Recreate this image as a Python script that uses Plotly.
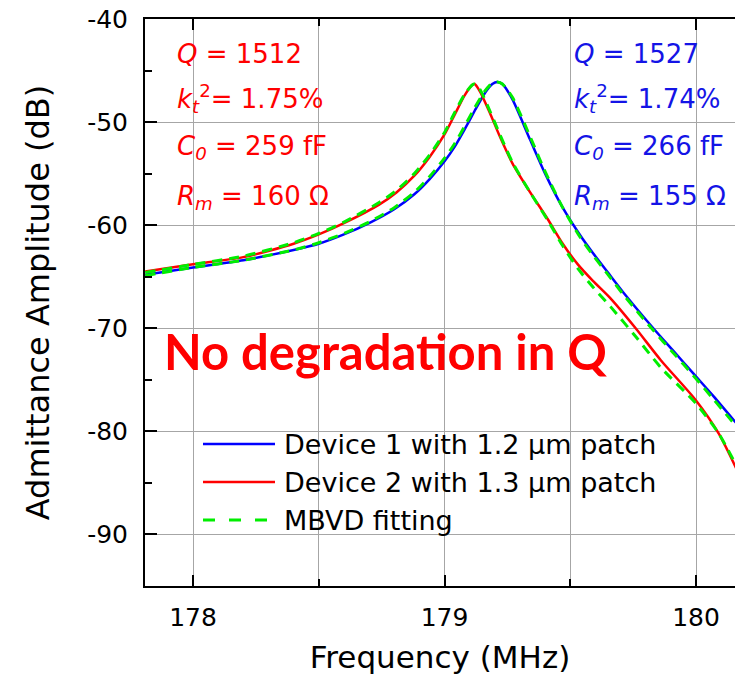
import plotly.graph_objects as go

# ---------------- data ----------------
freq_blue = [177.81, 178.00, 178.20, 178.40, 178.50, 178.60, 178.70, 178.80, 178.88, 178.94,
             179.00, 179.04, 179.08, 179.12, 179.16, 179.19, 179.21, 179.23, 179.27, 179.34,
             179.40, 179.47, 179.54, 179.59, 179.65, 179.72, 179.83, 179.91, 179.99, 180.07, 180.16]
dev1_blue = [-64.8, -64.1, -63.4, -62.4, -61.8, -60.9, -59.8, -58.45, -57.0, -55.55,
             -53.8, -52.4, -50.7, -48.9, -47.2, -46.3, -46.1, -46.3, -47.8, -51.7,
             -55.0, -58.3, -61.0, -62.7, -64.6, -66.8, -70.0, -72.2, -74.4, -76.6, -79.2]
fit_blue = [-64.9, -64.1, -63.4, -62.4, -61.7, -60.8, -59.7, -58.3, -56.8, -55.3,
            -53.5, -52.1, -50.4, -48.6, -47.0, -46.2, -46.1, -46.3, -47.6, -51.4,
            -54.8, -58.3, -61.2, -62.9, -64.8, -67.0, -70.2, -72.4, -74.6, -76.9, -79.5]

freq_red = [177.81, 178.00, 178.20, 178.40, 178.50, 178.60, 178.74, 178.81, 178.88, 178.94,
            179.00, 179.04, 179.08, 179.11, 179.12, 179.14, 179.18, 179.22, 179.27, 179.34,
            179.41, 179.47, 179.53, 179.59, 179.66, 179.76, 179.86, 180.00, 180.09, 180.16]
dev2_red = [-64.5, -63.8, -63.1, -61.8, -60.9, -59.8, -58.0, -56.8, -55.2, -53.4,
            -51.2, -49.3, -47.4, -46.4, -46.3, -47.0, -49.1, -51.4, -54.0, -56.8,
            -59.4, -61.8, -63.8, -65.4, -67.1, -70.0, -73.1, -77.0, -80.2, -83.6]
fit_red = [-64.6, -63.8, -63.0, -61.7, -60.8, -59.7, -57.8, -56.6, -55.0, -53.2,
           -51.0, -49.1, -47.3, -46.4, -46.3, -46.8, -48.9, -51.2, -53.9, -56.8,
           -59.5, -62.0, -64.2, -66.0, -67.9, -70.8, -73.8, -77.3, -80.2, -83.3]

legend_labels = ["Device 1 with 1.2 \u03bcm patch", "Device 2 with 1.3 \u03bcm patch", "MBVD fitting"]
red_params = ["<i>Q</i> = 1512", "<i>k</i><sub><i>t</i></sub><sup>2</sup>= 1.75%",
              "<i>C</i><sub><i>0</i></sub> = 259 fF", "<i>R</i><sub><i>m</i></sub> = 160 \u03a9"]
blue_params = ["<i>Q</i> = 1527", "<i>k</i><sub><i>t</i></sub><sup>2</sup>= 1.74%",
               "<i>C</i><sub><i>0</i></sub> = 266 fF", "<i>R</i><sub><i>m</i></sub> = 155 \u03a9"]
x_ticks = [178, 179, 180]
y_ticks = [-90, -80, -70, -60, -50, -40]

# ---------------- styling ----------------
RED = "#ff0000"
BLUE = "#0000ff"
BLUE_TXT = "#1414e6"
GREEN = "#00ee00"
FONT = "DejaVu Sans"
W, H = 735, 685
ML, MR, MT, MB = 145, 0, 19, 99
PW, PH = W - ML - MR, H - MT - MB


def px(x):
    return (x - ML) / PW


def py(y):
    return (H - MB - y) / PH


fig = go.Figure()
fig.add_trace(go.Scatter(x=freq_blue, y=dev1_blue, mode="lines", name=legend_labels[0],
                         line=dict(color=BLUE, width=2.5, shape="spline", smoothing=0.7)))
fig.add_trace(go.Scatter(x=freq_red, y=dev2_red, mode="lines", name=legend_labels[1],
                         line=dict(color=RED, width=2.5, shape="spline", smoothing=0.7)))
fig.add_trace(go.Scatter(x=freq_blue, y=fit_blue, mode="lines", name=legend_labels[2],
                         line=dict(color=GREEN, width=3, dash="10px,7px", shape="spline", smoothing=0.7)))
fig.add_trace(go.Scatter(x=freq_red, y=fit_red, mode="lines", name=legend_labels[2],
                         line=dict(color=GREEN, width=3, dash="10px,7px", shape="spline", smoothing=0.7)))

annotations = []
shapes = []
# parameter text blocks
rows_y = [54, 98, 147, 197]
for i, (rt, bt) in enumerate(zip(red_params, blue_params)):
    annotations.append(dict(x=px(175), y=py(rows_y[i]), xref="paper", yref="paper", text=rt,
                            showarrow=False, xanchor="left", yanchor="middle",
                            font=dict(family=FONT, size=26, color=RED)))
    annotations.append(dict(x=px(572), y=py(rows_y[i]), xref="paper", yref="paper", text=bt,
                            showarrow=False, xanchor="left", yanchor="middle",
                            font=dict(family=FONT, size=26, color=BLUE_TXT)))

annotations.append(dict(x=px(385), y=py(351), xref="paper", yref="paper",
                        text="<b>No degradation in Q</b>", showarrow=False,
                        xanchor="center", yanchor="middle",
                        font=dict(family="Lato", size=49, color=RED)))

# manual legend
leg_y = [444, 482, 520]
leg_style = [dict(color=BLUE, width=2.5), dict(color=RED, width=2.5),
             dict(color=GREEN, width=3, dash="12px,14px")]
for i in range(3):
    shapes.append(dict(type="line", xref="paper", yref="paper",
                       x0=px(203), x1=px(275), y0=py(leg_y[i]), y1=py(leg_y[i]),
                       line=leg_style[i]))
    annotations.append(dict(x=px(282), y=py(leg_y[i]), xref="paper", yref="paper",
                            text=legend_labels[i], showarrow=False, xanchor="left",
                            yanchor="middle", font=dict(family=FONT, size=27, color="black")))

grid = "#a6a6a6"
fig.update_layout(
    width=W, height=H,
    margin=dict(l=ML, r=MR, t=MT, b=MB, pad=0),
    paper_bgcolor="white", plot_bgcolor="white",
    showlegend=False,
    annotations=annotations, shapes=shapes,
    font=dict(family=FONT, color="black"),
    xaxis=dict(range=[177.809, 180.155], tickvals=x_ticks, ticktext=[str(v) for v in x_ticks],
               ticks="inside", ticklen=11, tickwidth=2, tickcolor="black",
               showline=True, linecolor="black", linewidth=2, mirror="ticks",
               showgrid=True, gridcolor=grid, gridwidth=1, zeroline=False,
               minor=dict(dtick=0.5, tick0=178, ticks="inside", ticklen=7, tickwidth=2,
                          tickcolor="black", showgrid=True, gridcolor=grid, gridwidth=1),
               tickfont=dict(family=FONT, size=25, color="black"), ticklabelstandoff=8,
               title=dict(text="Frequency (MHz)", font=dict(family=FONT, size=31, color="black"),
                          standoff=15)),
    yaxis=dict(range=[-95, -40], tickvals=y_ticks, ticktext=[str(v) for v in y_ticks],
               ticks="inside", ticklen=12, tickwidth=2, tickcolor="black",
               showline=True, linecolor="black", linewidth=2, mirror=False,
               showgrid=True, gridcolor=grid, gridwidth=1, zeroline=False,
               minor=dict(dtick=5, tick0=-95, ticks="inside", ticklen=7, tickwidth=2,
                          tickcolor="black", showgrid=False),
               tickfont=dict(family=FONT, size=25, color="black"), ticklabelstandoff=10,
               title=dict(text="Admittance Amplitude (dB)", font=dict(family=FONT, size=32, color="black"),
                          standoff=28)),
)

fig.write_html("out.html")
